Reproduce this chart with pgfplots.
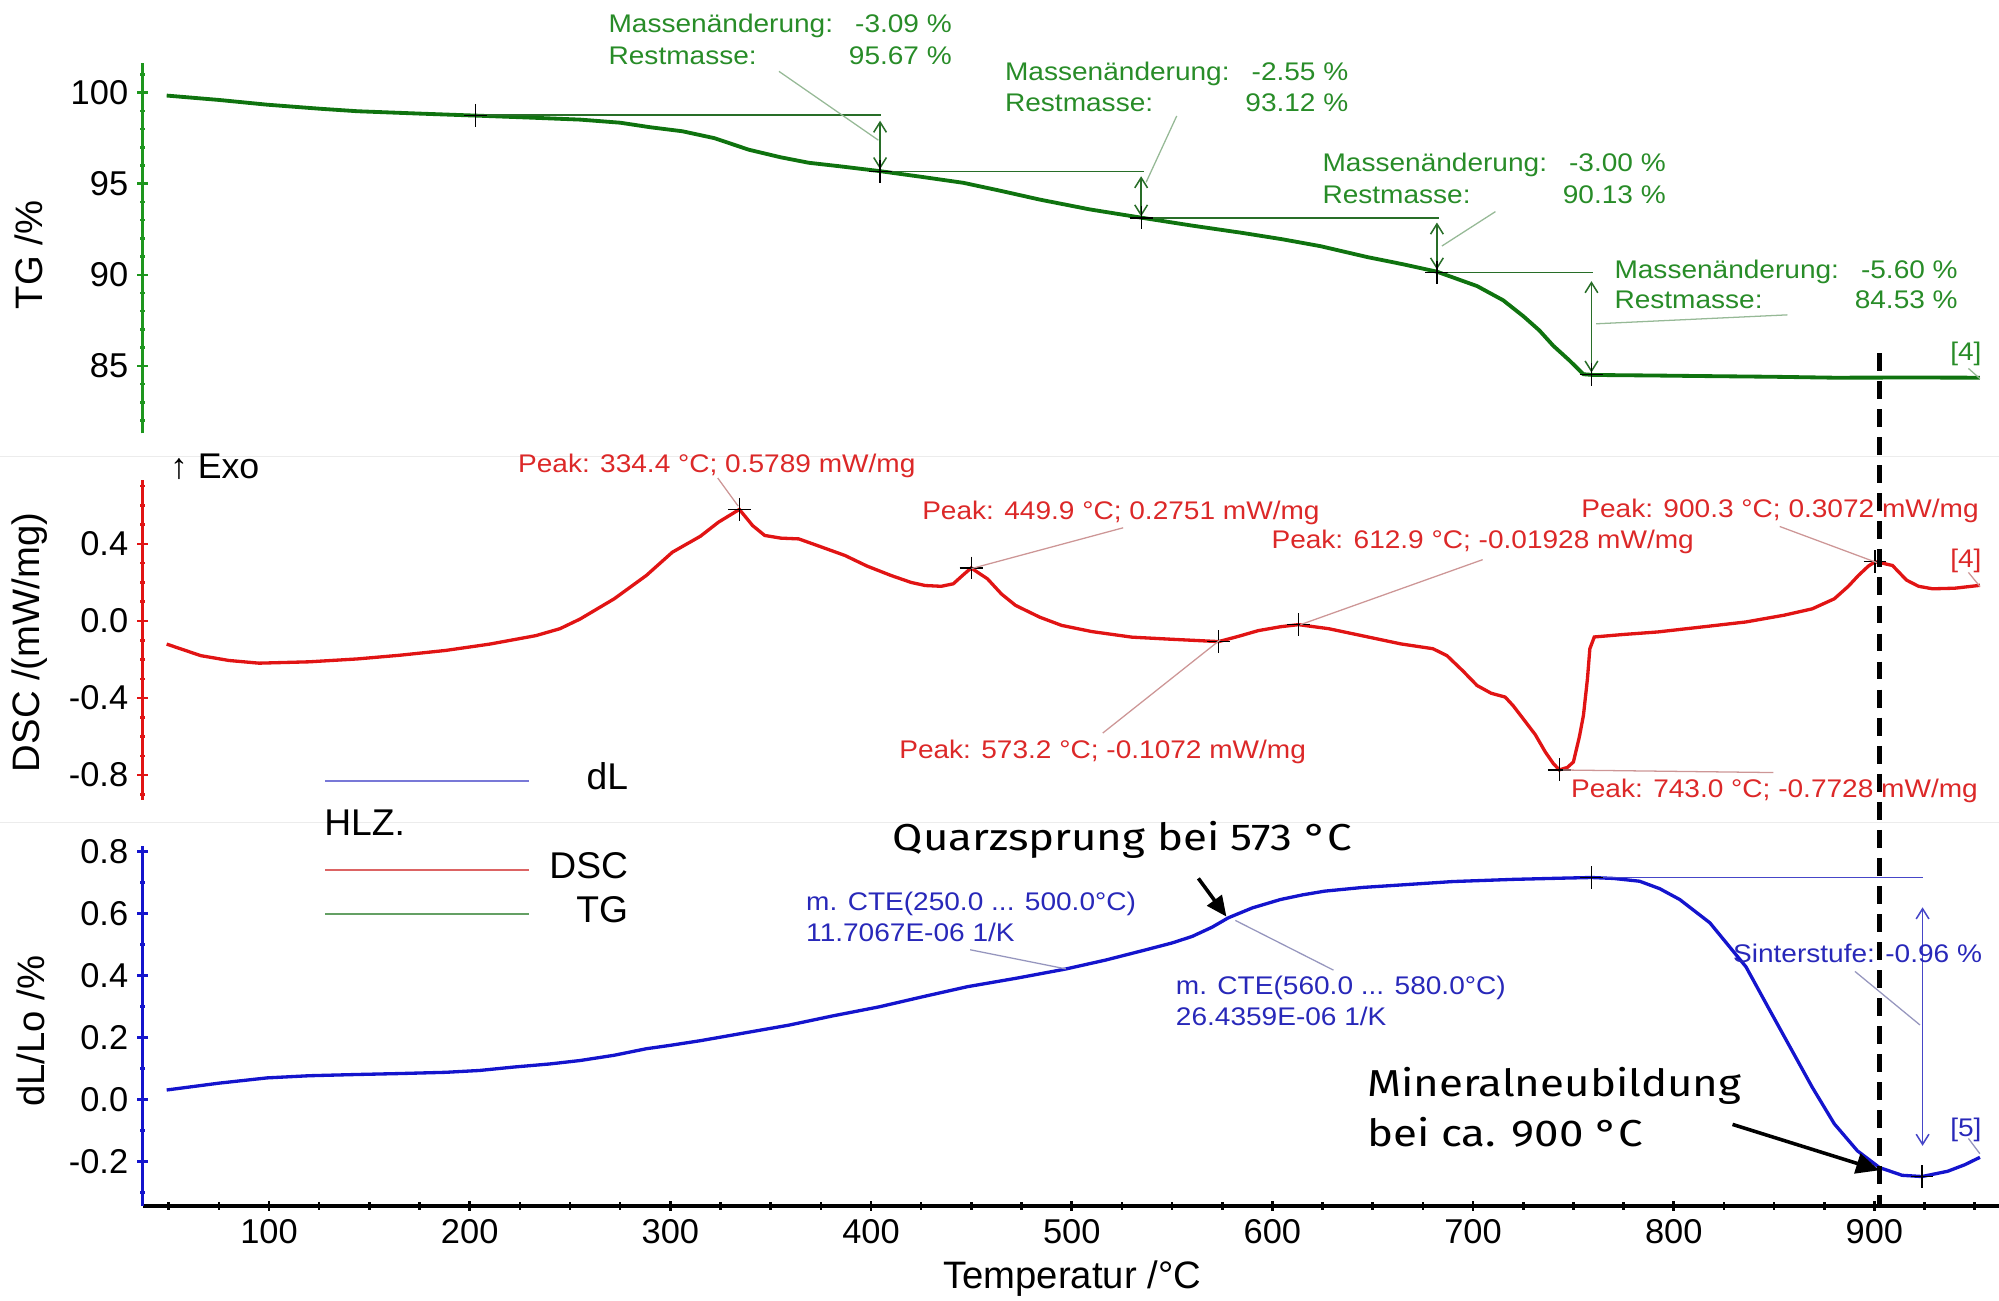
\documentclass[border=0pt]{standalone}
\usepackage{pgfplots}
\pgfplotsset{compat=1.18}
\usepackage{fontspec}
\setmainfont{Liberation Sans}
\newfontfamily\annfont{Liberation Sans}[FakeStretch=1.1]
\newfontfamily\bigfont{Fira Sans}[FakeStretch=1.17]
\usetikzlibrary{arrows.meta}

\definecolor{tgline}{RGB}{15,115,15}
\definecolor{tgspine}{RGB}{30,150,30}
\definecolor{tgtext}{RGB}{40,140,40}
\definecolor{tgthin}{RGB}{40,110,40}
\definecolor{tglead}{RGB}{150,185,150}
\definecolor{dscline}{RGB}{225,20,20}
\definecolor{dsctext}{RGB}{220,40,40}
\definecolor{dsclead}{RGB}{205,150,150}
\definecolor{dlline}{RGB}{20,20,205}
\definecolor{dltext}{RGB}{40,40,185}
\definecolor{dlthin}{RGB}{70,70,200}
\definecolor{dllead}{RGB}{150,150,190}
\definecolor{legblue}{RGB}{120,120,215}
\definecolor{legred}{RGB}{220,100,100}
\definecolor{leggreen}{RGB}{100,160,100}

\newcommand{\tickfont}{\fontsize{13.5}{16}\selectfont}
\newcommand{\annf}{\annfont\fontsize{10}{12}\selectfont}
\newcommand{\labf}{\fontsize{15}{17}\selectfont}
\newcommand{\legf}{\fontsize{14.6}{17}\selectfont}
\newcommand{\bigf}{\bigfont\fontsize{14.7}{16}\selectfont}

\pgfplotsset{
  base/.style={scale only axis, width=728pt, xmin=37.1, xmax=962.1, clip=false,
    tick align=outside, major tick length=4.4pt, minor tick length=1.8pt,
    ticklabel style={font=\tickfont, black},
    /pgf/number format/assume math mode=true},
}

\begin{document}
\begin{tikzpicture}
\path[use as bounding box] (0,0) rectangle (784pt,510pt);
\begin{scope}[yshift=510pt, x=0.5pt, y=-0.5pt]
\draw[gray!15, line width=0.6pt] (0,358)--(1568,358);
\draw[gray!15, line width=0.6pt] (0,645)--(1568,645);
\end{scope}

% ---------------- TG ----------------
\begin{axis}[base, at={(56pt,340pt)}, anchor=south west, height=145.15pt,
  ymin=81.29, ymax=101.61, axis x line=none, axis y line=left, xtick=\empty,
  axis line style={-, tgspine, line width=1.3pt},
  tick style={tgspine, line width=1pt},
  ytick={85,90,95,100}, yticklabels={85,90,95,100},
  minor ytick={82,83,...,101}]
\addplot[tgline, line width=1.5pt] coordinates {
(49,99.84) (75,99.6) (99,99.34) (125,99.12) (144,98.98) (175,98.85) (203,98.74)
(230,98.63) (255,98.52) (275,98.35) (290,98.1) (306,97.88) (322,97.5) (339,96.87)
(355,96.45) (369,96.15) (385,95.95) (404.5,95.69) (425,95.38) (446,95.05) (465,94.6)
(484,94.13) (509,93.59) (535,93.13) (560,92.7) (585,92.3) (605,91.95) (624,91.57)
(647,90.98) (665,90.58) (682,90.17) (702,89.38) (715,88.6) (725,87.73) (733,86.95)
(740,86.1) (748,85.3) (755,84.54) (760,84.5) (790,84.47) (814,84.44) (850,84.4)
(880,84.35) (920,84.36) (952.6,84.35)};
\addplot[only marks, mark=+, mark size=4.5pt, black, line width=0.5pt] coordinates {
(203,98.76) (404.5,95.67) (534.6,93.12) (682,90.13) (759,84.53)};
\draw[tgthin, line width=0.6pt] (axis cs:203,98.76) -- (axis cs:405,98.76);
\draw[tgthin, line width=0.6pt] (axis cs:404.5,95.67) -- (axis cs:536,95.67);
\draw[tgthin, line width=0.6pt] (axis cs:534.6,93.12) -- (axis cs:683,93.12);
\draw[tgthin, line width=0.6pt] (axis cs:682,90.13) -- (axis cs:760,90.13);
\draw[tgthin, line width=0.6pt, {Straight Barb[length=4pt,width=5pt]}-{Straight Barb[length=4pt,width=5pt]}] (axis cs:404.5,98.46) -- (axis cs:404.5,95.8);
\draw[tgthin, line width=0.6pt, {Straight Barb[length=4pt,width=5pt]}-{Straight Barb[length=4pt,width=5pt]}] (axis cs:534.6,95.41) -- (axis cs:534.6,93.2);
\draw[tgthin, line width=0.6pt, {Straight Barb[length=4pt,width=5pt]}-{Straight Barb[length=4pt,width=5pt]}] (axis cs:682,92.87) -- (axis cs:682,90.29);
\draw[tgthin, line width=0.6pt, {Straight Barb[length=4pt,width=5pt]}-{Straight Barb[length=4pt,width=5pt]}] (axis cs:759,89.65) -- (axis cs:759,84.63);
\end{axis}

% ---------------- DSC ----------------
\begin{axis}[base, at={(56pt,196.25pt)}, anchor=south west, height=125.5pt,
  ymin=-0.929, ymax=0.732, axis x line=none, axis y line=left, xtick=\empty,
  axis line style={-, dscline, line width=1.3pt},
  tick style={dscline, line width=1pt},
  ytick={-0.8,-0.4,0,0.4}, yticklabels={-0.8,-0.4,0.0,0.4},
  minor ytick={-0.9,-0.7,-0.6,-0.5,-0.3,-0.2,-0.1,0.1,0.2,0.3,0.5,0.6,0.7}]
\addplot[dscline, line width=1.3pt] coordinates {
(49,-0.12) (66,-0.18) (80,-0.205) (95,-0.219) (120,-0.212) (144,-0.197) (165,-0.178)
(188,-0.153) (210,-0.12) (233,-0.076) (245,-0.04) (255,0.01) (272,0.115) (288,0.236)
(301,0.357) (315,0.44) (324,0.513) (334.4,0.579) (341,0.495) (347,0.444) (355,0.43)
(364,0.426) (375,0.385) (387,0.34) (398,0.285) (410,0.236) (420,0.2) (427,0.184)
(435,0.18) (441,0.193) (446,0.24) (449.9,0.275) (458,0.219) (465,0.14) (472,0.081)
(484,0.02) (495,-0.023) (510,-0.055) (530,-0.084) (550,-0.095) (573.2,-0.107)
(583,-0.08) (593,-0.05) (604,-0.03) (613,-0.019) (628,-0.04) (644,-0.075) (664,-0.119)
(680,-0.144) (687,-0.18) (695,-0.26) (702,-0.335) (709,-0.375) (716,-0.395) (720,-0.44)
(725,-0.508) (731,-0.59) (736,-0.68) (740,-0.74) (743,-0.773) (747,-0.76) (750,-0.732)
(753,-0.6) (755,-0.49) (757,-0.3) (758.2,-0.144) (760.4,-0.083) (775,-0.07) (792,-0.057)
(815,-0.03) (836,-0.005) (855,0.03) (869,0.063) (880,0.115) (887,0.18) (892,0.236)
(897,0.285) (900.3,0.307) (904,0.30) (909,0.288) (916,0.212) (922,0.18) (929,0.167)
(940,0.17) (952.6,0.185)};
\addplot[only marks, mark=+, mark size=4.5pt, black, line width=0.5pt] coordinates {
(334.4,0.5789) (449.9,0.2751) (573.2,-0.1072) (612.9,-0.01928) (743.0,-0.7728) (900.3,0.3072)};
\end{axis}

% ---------------- dL: x axis ----------------
\begin{axis}[base, at={(56pt,37pt)}, anchor=south west, height=141pt,
  ymin=-0.343, ymax=0.816, axis x line=bottom, axis y line=none, ytick=\empty,
  axis line style={-, black, line width=1.3pt},
  tick style={black, line width=1pt}, major tick length=3.6pt, minor tick length=3pt,
  xtick={100,200,...,900}, xticklabels={100,200,300,400,500,600,700,800,900},
  minor xtick={50,75,...,950}]
\addplot[draw=none] coordinates {(100,0)};
\end{axis}

% ---------------- dL: y axis & curve ----------------
\begin{axis}[base, at={(56pt,37pt)}, anchor=south west, height=141pt,
  ymin=-0.343, ymax=0.816, axis x line=none, axis y line=left, xtick=\empty,
  axis line style={-, dlline, line width=1.3pt},
  tick style={dlline, line width=1pt},
  ytick={-0.2,0,0.2,0.4,0.6,0.8}, yticklabels={-0.2,0.0,0.2,0.4,0.6,0.8},
  minor ytick={-0.3,-0.1,0.1,0.3,0.5,0.7}]
\addplot[dlline, line width=1.3pt] coordinates {
(49,0.031) (75,0.053) (99,0.07) (120,0.077) (144,0.081) (165,0.084) (188,0.088)
(205,0.094) (222,0.105) (240,0.115) (255,0.126) (272,0.143) (288,0.164) (300,0.175)
(315,0.19) (337,0.215) (359,0.24) (381,0.27) (404,0.299) (426,0.332) (448,0.364)
(473,0.392) (497,0.421) (517,0.45) (537,0.483) (550,0.505) (560,0.526) (570,0.556)
(578,0.586) (590,0.618) (604,0.645) (615,0.66) (626,0.672) (645,0.684) (664,0.692)
(690,0.703) (720,0.71) (745,0.714) (759,0.716) (770,0.713) (783,0.704) (793,0.68)
(803,0.645) (818,0.57) (836,0.428) (847,0.298) (858,0.169) (869,0.04) (880,-0.078)
(891.5,-0.165) (902.5,-0.219) (913.8,-0.244) (923.7,-0.248) (936.5,-0.231) (945,-0.21)
(952.6,-0.186)};
\addplot[only marks, mark=+, mark size=4.5pt, black, line width=0.5pt] coordinates {
(759,0.716) (923.7,-0.248)};
\draw[dlthin, line width=0.6pt] (axis cs:759,0.716) -- (axis cs:924,0.716);
\draw[dlthin, line width=0.6pt, {Straight Barb[length=4pt,width=5pt]}-{Straight Barb[length=4pt,width=5pt]}] (axis cs:924,0.62) -- (axis cs:924,-0.149);
\end{axis}

% ---------------- annotations ----------------
\begin{scope}[yshift=510pt, x=0.5pt, y=-0.5pt]
% green
\begin{scope}[every node/.style={tgtext, inner sep=0, font=\annf}]
\node[anchor=mid west] at (477,20) {Massenänderung:};
\node[anchor=mid east] at (747,20) {-3.09 \%};
\node[anchor=mid west] at (477,45) {Restmasse:};
\node[anchor=mid east] at (747,45) {95.67 \%};
\node[anchor=mid west] at (788,58) {Massenänderung:};
\node[anchor=mid east] at (1058,58) {-2.55 \%};
\node[anchor=mid west] at (788,82) {Restmasse:};
\node[anchor=mid east] at (1058,82) {93.12 \%};
\node[anchor=mid west] at (1037,129) {Massenänderung:};
\node[anchor=mid east] at (1307,129) {-3.00 \%};
\node[anchor=mid west] at (1037,154) {Restmasse:};
\node[anchor=mid east] at (1307,154) {90.13 \%};
\node[anchor=mid west] at (1266,213) {Massenänderung:};
\node[anchor=mid east] at (1536,213) {-5.60 \%};
\node[anchor=mid west] at (1266,237) {Restmasse:};
\node[anchor=mid east] at (1536,237) {84.53 \%};
\node at (1542,278) {[4]};
\end{scope}
\draw[tglead, line width=0.5pt] (611,56)--(689,110);
\draw[tglead, line width=0.5pt] (923,91)--(899,143);
\draw[tglead, line width=0.5pt] (1173,166)--(1131,193);
\draw[tglead, line width=0.5pt] (1252,254)--(1402,247);
\draw[tglead, line width=0.5pt] (1544,289)--(1553,297);
% red
\begin{scope}[every node/.style={dsctext, inner sep=0, font=\annf, anchor=mid west}]
\node at (406,365) {Peak: 334.4 °C; 0.5789 mW/mg};
\node at (723,402) {Peak: 449.9 °C; 0.2751 mW/mg};
\node at (997,425) {Peak: 612.9 °C; -0.01928 mW/mg};
\node at (705,590) {Peak: 573.2 °C; -0.1072 mW/mg};
\node at (1232,620) {Peak: 743.0 °C; -0.7728 mW/mg};
\node at (1240,401) {Peak: 900.3 °C; 0.3072 mW/mg};
\node[anchor=center] at (1542,440) {[4]};
\end{scope}
\draw[dsclead, line width=0.5pt] (563,375)--(579,397);
\draw[dsclead, line width=0.5pt] (881,414)--(762,446);
\draw[dsclead, line width=0.5pt] (865,575)--(957,502);
\draw[dsclead, line width=0.5pt] (1163,439)--(1020,490);
\draw[dsclead, line width=0.5pt] (1396,413)--(1474,442);
\draw[dsclead, line width=0.5pt] (1226,604)--(1391,606);
\draw[dsclead, line width=0.5pt] (1544,449)--(1553,460);
\node[anchor=mid west, inner sep=0, font=\fontsize{14}{16}\selectfont] at (133,370) {↑ Exo};
% blue
\begin{scope}[every node/.style={dltext, inner sep=0, font=\annf, anchor=mid west}]
\node at (632,709) {m. CTE(250.0 ... 500.0°C)};
\node at (632,733) {11.7067E-06 1/K};
\node at (922,775) {m. CTE(560.0 ... 580.0°C)};
\node at (922,799) {26.4359E-06 1/K};
\node at (1359,750) {Sinterstufe: -0.96 \%};
\node[anchor=center] at (1542,886) {[5]};
\end{scope}
\draw[dllead, line width=0.5pt] (761,745)--(836,760);
\draw[dllead, line width=0.5pt] (969,722)--(1046,761);
\draw[dllead, line width=0.5pt] (1455,762)--(1506,804);
\draw[dllead, line width=0.5pt] (1544,893)--(1553,905);
% legend
\draw[legblue, line width=0.8pt] (255,612.6)--(415,612.6);
\draw[legred, line width=0.8pt] (255,682.4)--(415,682.4);
\draw[leggreen, line width=0.8pt] (255,717)--(415,717);
\node[anchor=mid east, inner sep=0, font=\legf] at (493,614) {dL};
\node[anchor=mid west, inner sep=0, font=\legf] at (254,650) {HLZ.};
\node[anchor=mid east, inner sep=0, font=\legf] at (493,684) {DSC};
\node[anchor=mid east, inner sep=0, font=\legf] at (493,718) {TG};
% axis labels
\node[rotate=90, font=\labf] at (23,200) {TG /\%};
\node[rotate=90, font=\labf] at (23,504) {DSC /(mW/mg)};
\node[rotate=90, font=\labf] at (24.5,809) {dL/Lo /\%};
\node[font=\labf] at (841,1003) {Temperatur /°C};
% black annotations
\node[anchor=mid west, inner sep=0, font=\bigf] at (700,662) {Quarzsprung bei 573 °C};
\draw[-{Triangle[length=8pt,width=7pt]}, line width=1.4pt] (940,689)--(962,719);
\node[anchor=mid west, inner sep=0, font=\bigf] at (1072,855) {Mineralneubildung};
\node[anchor=mid west, inner sep=0, font=\bigf] at (1072,894) {bei ca. 900 °C};
\draw[-{Triangle[length=9pt,width=8pt]}, line width=1.4pt] (1359,882)--(1474,918);
\draw[line width=1.8pt, dash pattern=on 7pt off 4pt] (1474.3,277)--(1474.3,945);
\end{scope}
\end{tikzpicture}
\end{document}
